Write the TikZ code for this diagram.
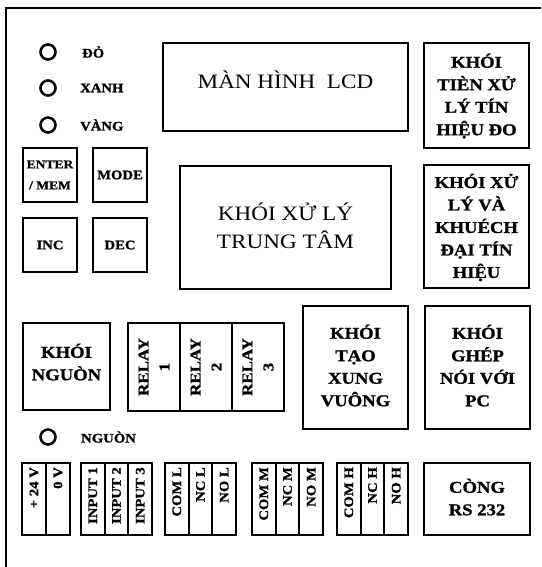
\documentclass[tikz,border=0pt]{standalone}
\usepackage{fontspec}
\setmainfont{Liberation Serif}[FakeStretch=1.13, BoldFeatures={FakeBold=1.2}]
\begin{document}
\begin{tikzpicture}[x=1pt,y=-1pt,
  box/.style={draw, line width=2pt, inner sep=0pt},
  lbl/.style={font=\bfseries\fontsize{16.5}{22.5}\selectfont, align=center, inner sep=0pt},
  big/.style={font=\fontsize{20.5}{28}\selectfont, align=center, inner sep=0pt},
  led/.style={circle, draw, line width=2.6pt, minimum size=15pt, inner sep=0pt},
  ledtext/.style={anchor=west, inner sep=0pt, font=\bfseries\fontsize{13}{15}\selectfont},
  btn/.style={box, minimum width=54pt, minimum height=54pt, align=center, font=\bfseries\fontsize{13}{15}\selectfont},
  term/.style={box, minimum width=23.7pt, minimum height=72pt},
  termtext/.style={rotate=90, anchor=east, inner sep=0pt, font=\bfseries\fontsize{13}{15}\selectfont},
  relay/.style={box, minimum width=52pt, minimum height=88pt},
  relaytext/.style={rotate=90, align=center, inner sep=0pt, font=\bfseries\fontsize{15}{21}\selectfont}
]
\useasboundingbox (0,0) rectangle (541,567);
\fill[white] (0,0) rectangle (541,567);
% outer frame
\coordinate (fa) at (541,8);
\coordinate (fb) at (6,8);
\coordinate (fc) at (6,567);
\draw[line width=1.8pt] (fa) -- (fb) -- (fc);

% LEDs
\node[led] (ledr) at (48,52) {};
\node[ledtext] (ledrt) at (82,52) {ĐỎ};
\node[led] (ledx) at (48,88) {};
\node[ledtext] (ledxt) at (80,88) {XANH};
\node[led] (ledv) at (48,125) {};
\node[ledtext] (ledvt) at (80,125) {VÀNG};
\node[led] (ledn) at (48,437) {};
\node[ledtext] (lednt) at (81,437) {NGUÒN};

% buttons
\node[btn, font=\bfseries\fontsize{12}{21}\selectfont] (enter) at (50,175) {ENTER\\/ MEM};
\node[btn] (mode) at (120,175) {MODE};
\node[btn] (inc) at (50,245) {INC};
\node[btn] (dec) at (120,245) {DEC};

% LCD
\node[box, minimum width=245pt, minimum height=88pt] (lcd) at (285.5,87) {};
\node[big] (lcdt) at (285.5,80) {MÀN HÌNH\ \ LCD};

% CPU
\node[box, minimum width=211pt, minimum height=123pt] (cpu) at (285.5,227.5) {};
\node[big] (cput) at (285.5,226) {KHÓI XỬ LÝ\\TRUNG TÂM};

% right blocks
\node[box, minimum width=105pt, minimum height=105pt] (pre) at (476.5,95.5) {};
\node[lbl] (pret) at (476.5,96) {KHÓI\\TIÈN XỬ\\LÝ TÍN\\HIỆU ĐO};
\node[box, minimum width=105pt, minimum height=123pt] (amp) at (476.5,226.5) {};
\node[lbl] (ampt) at (476.5,227.5) {KHÓI XỬ\\LÝ VÀ\\KHUÉCH\\ĐẠI TÍN\\HIỆU};

% power block
\node[box, minimum width=87pt, minimum height=87pt] (pwr) at (66.5,366.5) {};
\node[lbl] (pwrt) at (66.5,362) {KHÓI\\NGUÒN};

% relays
\node[relay] (r1) at (154,367) {};
\node[relay] (r2) at (206,367) {};
\node[relay] (r3) at (258,367) {};
\node[relaytext] (r1t) at (r1.center) {RELAY\\1};
\node[relaytext] (r2t) at (r2.center) {RELAY\\2};
\node[relaytext] (r3t) at (r3.center) {RELAY\\3};

% square wave & PC
\node[box, minimum width=105pt, minimum height=123pt] (sq) at (355.5,367.5) {};
\node[lbl] (sqt) at (355.5,365.5) {KHÓI\\TẠO\\XUNG\\VUÔNG};
\node[box, minimum width=105pt, minimum height=123pt] (pc) at (477.5,367.5) {};
\node[lbl] (pct) at (477.5,365.5) {KHÓI\\GHÉP\\NÓI VỚI\\PC};

% terminals
\node[term] (p1) at (34,499) {};
\node[term] (p2) at (58,499) {};
\node[termtext] (p1t) at (34,467) {+ 24 V};
\node[termtext] (p2t) at (58,467) {0 V};

\node[term] (i1) at (92.8,499) {};
\node[term] (i2) at (116.5,499) {};
\node[term] (i3) at (140.2,499) {};
\node[termtext] (i1t) at (92.8,467) {INPUT 1};
\node[termtext] (i2t) at (116.5,467) {INPUT 2};
\node[termtext] (i3t) at (140.2,467) {INPUT 3};

\node[term] (l1) at (176.8,499) {};
\node[term] (l2) at (200.5,499) {};
\node[term] (l3) at (224.2,499) {};
\node[termtext] (l1t) at (176.8,467) {COM L};
\node[termtext] (l2t) at (200.5,467) {NC L};
\node[termtext] (l3t) at (224.2,467) {NO L};

\node[term] (m1) at (263.8,499) {};
\node[term] (m2) at (287.5,499) {};
\node[term] (m3) at (311.2,499) {};
\node[termtext] (m1t) at (263.8,467) {COM M};
\node[termtext] (m2t) at (287.5,467) {NC M};
\node[termtext] (m3t) at (311.2,467) {NO M};

\node[term] (h1) at (348.8,499) {};
\node[term] (h2) at (372.5,499) {};
\node[term] (h3) at (396.2,499) {};
\node[termtext] (h1t) at (348.8,467) {COM H};
\node[termtext] (h2t) at (372.5,467) {NC H};
\node[termtext] (h3t) at (396.2,467) {NO H};

% RS232
\node[box, minimum width=106pt, minimum height=72pt] (rs) at (477,499) {};
\node[lbl] (rst) at (477,497) {CÒNG\\RS 232};
\end{tikzpicture}
\end{document}
